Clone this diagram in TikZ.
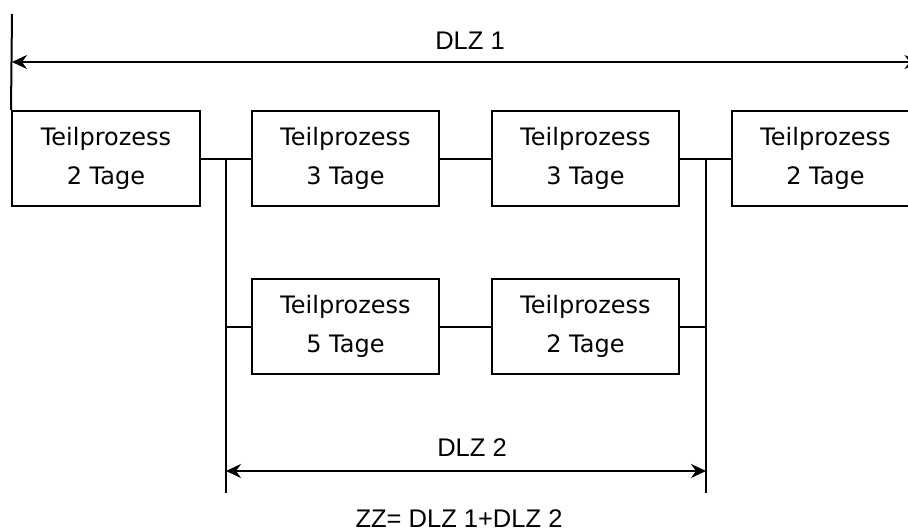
\documentclass[tikz,border=0pt]{standalone}
\usepackage{fontspec}
\setmainfont{DejaVu Sans}
\newfontfamily\labelfont{Liberation Sans}
\usetikzlibrary{arrows.meta}

\tikzset{
  line/.style={line width=2pt, line cap=butt},
  procbox/.style={draw, line width=2pt, rectangle, minimum width=187pt,
    minimum height=95pt, inner sep=0pt, align=center,
    font=\fontsize{24}{39}\selectfont},
  dimarrow/.style={line width=2pt,
    {Stealth[length=15pt,width=14pt,inset=5pt]}-{Stealth[length=15pt,width=14pt,inset=5pt]}},
  dimlabel/.style={anchor=base, inner sep=0pt, font=\labelfont\fontsize{25.5}{30}\selectfont}
}

\begin{document}
\begin{tikzpicture}[x=1pt,y=-1pt]
  \useasboundingbox (0,0) rectangle (908,531);

  % upper chain
  \node[procbox, minimum width=188pt] (p1) at (106,158.5) {Teilprozess\\2 Tage};
  \node[procbox] (p2) at (345.5,158.5) {Teilprozess\\3 Tage};
  \node[procbox] (p3) at (585.5,158.5) {Teilprozess\\3 Tage};
  \node[procbox] (p4) at (825.5,158.5) {Teilprozess\\2 Tage};

  % parallel branch
  \node[procbox] (p5) at (345.5,326.5) {Teilprozess\\5 Tage};
  \node[procbox] (p6) at (585.5,326.5) {Teilprozess\\2 Tage};

  % split and join rails
  \coordinate (splitTop) at (226,158.5);
  \coordinate (splitBot) at (226,493);
  \coordinate (joinTop)  at (706,158.5);
  \coordinate (joinBot)  at (706,493);

  \draw[line] (p1.east) -- (p2.west);
  \draw[line] (p2.east) -- (p3.west);
  \draw[line] (p3.east) -- (p4.west);
  \draw[line] (p5.east) -- (p6.west);
  \draw[line] (splitTop) -- (splitBot);
  \draw[line] (joinTop) -- (joinBot);
  \draw[line] (p5.west) -- (p5.west -| splitTop);
  \draw[line] (p6.east) -- (p6.east -| joinTop);

  % overall lead time
  \coordinate (extTop) at (12,14);
  \coordinate (dlzOneL) at (12,62);
  \coordinate (dlzOneR) at (919.5,62);
  \draw[line] (extTop) -- (p1.north west);
  \draw[dimarrow] (dlzOneL) -- (dlzOneR);
  \node[dimlabel] (dlz1) at (470,49) {DLZ 1};

  % lead time of the parallel branch
  \coordinate (dlzTwoL) at (226,471);
  \coordinate (dlzTwoR) at (706,471);
  \draw[dimarrow] (dlzTwoL) -- (dlzTwoR);
  \node[dimlabel] (dlz2) at (472,456) {DLZ 2};

  \node[dimlabel] (zz) at (459,527) {ZZ= DLZ 1+DLZ 2};
\end{tikzpicture}
\end{document}
